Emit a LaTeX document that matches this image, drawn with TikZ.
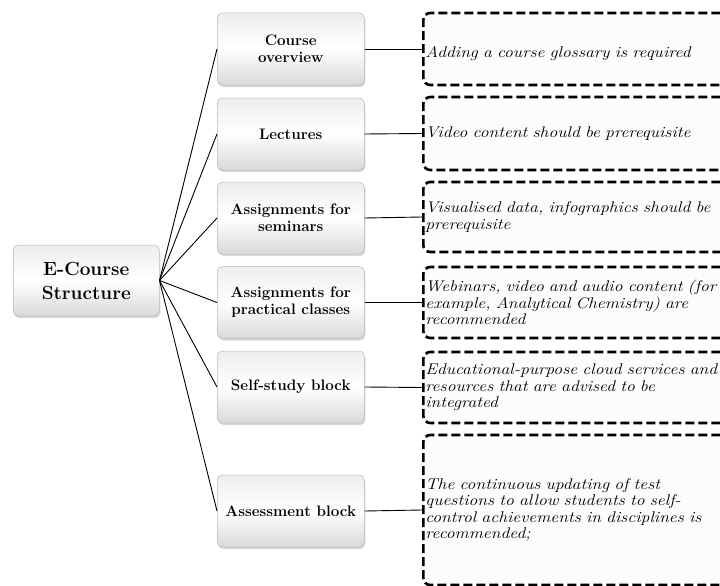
\documentclass[tikz,border=0pt]{standalone}
\usepackage{fontspec}
\newfontfamily\notefont{Latin Modern Roman}[FakeStretch=1.14]
\usetikzlibrary{shadows}
\begin{document}
\begin{tikzpicture}[x=1pt,y=-1pt,
  mid/.style={draw=gray!55, line width=0.5pt, rounded corners=5pt,
    minimum width=147pt, minimum height=72pt, inner sep=2pt,
    top color=gray!14, bottom color=gray!30, middle color=white,
    align=center, font=\fontsize{15.2}{17}\selectfont\bfseries,
    drop shadow={shadow xshift=1pt, shadow yshift=-2pt, opacity=0.3},
    anchor=west},
  note/.style={draw, line width=2.6pt, dash pattern=on 9pt off 4pt,
    rounded corners=7pt, anchor=west, text width=300pt, inner xsep=2pt,
    align=left, font=\notefont\itshape\fontsize{15.5}{16.5}\selectfont, fill=gray!2},
  link/.style={line width=0.9pt}]
\path[use as bounding box] (0,0) rectangle (720,586);
\clip (0,0) rectangle (720,586);
\fill[white] (0,0) rectangle (720,586);

\node[mid, minimum width=146pt, minimum height=71pt,
  font=\fontsize{19}{24}\selectfont\bfseries] (root) at (13,280.5) {E-Course\\Structure};

\node[mid] (m1) at (217,49) {Course\\overview};
\node[mid] (m2) at (217,134) {Lectures};
\node[mid] (m3) at (217,218) {Assignments for\\seminars};
\node[mid] (m4) at (217,302.5) {Assignments for\\practical classes};
\node[mid] (m5) at (217,387) {Self-study block};
\node[mid] (m6) at (217,511) {Assessment block};

\node[note, minimum height=72pt, text height=21pt, text depth=4pt] (n1) at (422,49) {Adding a course glossary is required};
\node[note, minimum height=73pt] (n2) at (422,133.5) {Video content should be prerequisite};
\node[note, minimum height=70pt] (n3) at (422,217) {Visualised data, infographics should be\\prerequisite};
\node[note, minimum height=71pt] (n4) at (422,302.5) {Webinars, video and audio content (for\\example, Analytical Chemistry) are\\recommended};
\node[note, minimum height=71pt] (n5) at (422,387.5) {Educational-purpose cloud services and\\resources that are advised to be\\integrated};
\node[note, minimum height=150pt] (n6) at (422,510) {The continuous updating of test\\questions to allow students to self-\\control achievements in disciplines is\\recommended;};

\foreach \i in {1,...,6} {
  \draw[link] (root.east) -- (m\i.west);
  \draw[link] (m\i.east) -- (n\i.west);
}
\end{tikzpicture}
\end{document}
